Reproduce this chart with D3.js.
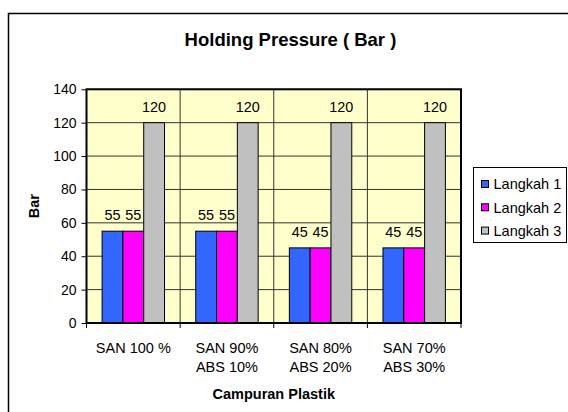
<!DOCTYPE html>
<html>
<head>
<meta charset="utf-8">
<script src="https://cdn.jsdelivr.net/npm/d3@7"></script>
<style>
  body { margin: 0; background: #fff; }
  text { font-family: Arial, "Liberation Sans", sans-serif; }
</style>
</head>
<body>
<div class="chart"></div>
<script>
// data
var categories = ["SAN 100 %", "SAN 90%\nABS 10%", "SAN 80%\nABS 20%", "SAN 70%\nABS 30%"];
var seriesNames = ["Langkah 1", "Langkah 2", "Langkah 3"];
var langkah1 = [55, 55, 45, 45];
var langkah2 = [55, 55, 45, 45];
var langkah3 = [120, 120, 120, 120];
var yTicks = [0, 20, 40, 60, 80, 100, 120, 140];
var colors = ["#3366FF", "#FF00FF", "#C0C0C0"];

var values = [langkah1, langkah2, langkah3];

var svg = d3.select(".chart").append("svg").attr("width", 568).attr("height", 412);

// outer chart frame (runs off the right/bottom of the picture)
svg.append("rect")
    .attr("x", 8.5).attr("y", 13.5)
    .attr("width", 620).attr("height", 430)
    .attr("fill", "#fff").attr("stroke", "#000").attr("stroke-width", 1.5);

var plotLeft = 86.5, plotRight = 461, plotTop = 89.3, plotBottom = 323;

var x = d3.scaleBand().domain(categories).range([plotLeft, plotRight]).padding(0);
var xs = d3.scaleBand().domain(seriesNames).range([0, x.bandwidth()])
            .paddingInner(0).paddingOuter(0.75);
var y = d3.scaleLinear().domain([0, 140]).range([plotBottom, plotTop]);

// plot background
svg.append("rect")
    .attr("x", plotLeft).attr("y", plotTop)
    .attr("width", plotRight - plotLeft).attr("height", plotBottom - plotTop)
    .attr("fill", "#FFFFCC");

// horizontal grid
svg.selectAll(".hgrid").data(yTicks).enter().append("line")
    .attr("x1", plotLeft).attr("x2", plotRight)
    .attr("y1", function(d){ return y(d); }).attr("y2", function(d){ return y(d); })
    .attr("stroke", "#333").attr("stroke-width", 1);

// vertical grid at category boundaries
svg.selectAll(".vgrid").data(categories.slice(1)).enter().append("line")
    .attr("x1", function(d){ return x(d); }).attr("x2", function(d){ return x(d); })
    .attr("y1", plotTop).attr("y2", plotBottom)
    .attr("stroke", "#333").attr("stroke-width", 1);

// bars
seriesNames.forEach(function(s, si) {
    svg.selectAll(".bar" + si).data(values[si]).enter().append("rect")
        .attr("x", function(d, i){ return x(categories[i]) + xs(s); })
        .attr("y", function(d){ return y(d); })
        .attr("width", xs.bandwidth())
        .attr("height", function(d){ return y(0) - y(d); })
        .attr("fill", colors[si])
        .attr("stroke", "#000").attr("stroke-width", 1);

    svg.selectAll(".lab" + si).data(values[si]).enter().append("text")
        .text(function(d){ return d; })
        .attr("x", function(d, i){ return x(categories[i]) + xs(s) + xs.bandwidth() / 2; })
        .attr("y", function(d){ return y(d) - 11; })
        .attr("text-anchor", "middle")
        .attr("font-size", "14.4px")
        .attr("fill", "#000");
});

// plot border
svg.append("rect")
    .attr("x", plotLeft).attr("y", plotTop)
    .attr("width", plotRight - plotLeft).attr("height", plotBottom - plotTop)
    .attr("fill", "none").attr("stroke", "#000").attr("stroke-width", 2);

// y axis
var yAxis = svg.append("g")
    .attr("transform", "translate(" + plotLeft + ",0)")
    .call(d3.axisLeft(y).tickValues(yTicks).tickSize(5).tickPadding(5));
yAxis.select(".domain").remove();
yAxis.selectAll(".tick line").attr("stroke", "#000");
yAxis.selectAll(".tick text")
    .attr("font-size", "14px").attr("fill", "#000")
    .attr("font-family", "Arial, 'Liberation Sans', sans-serif");

// x axis tick marks at category boundaries
var bounds = categories.map(function(c){ return x(c); }).concat([plotRight]);
svg.selectAll(".xtick").data(bounds).enter().append("line")
    .attr("x1", function(d){ return d; }).attr("x2", function(d){ return d; })
    .attr("y1", plotBottom).attr("y2", plotBottom + 5)
    .attr("stroke", "#000").attr("stroke-width", 1);

// category labels (two lines)
categories.forEach(function(c) {
    var t = svg.append("text")
        .attr("text-anchor", "middle")
        .attr("font-size", "14.5px")
        .attr("fill", "#000");
    c.split("\n").forEach(function(line, li) {
        t.append("tspan")
            .attr("x", x(c) + x.bandwidth() / 2)
            .attr("y", 352.5 + li * 19)
            .text(line);
    });
});

// titles
svg.append("text")
    .text("Holding Pressure ( Bar )")
    .attr("x", 290.5).attr("y", 45.7)
    .attr("text-anchor", "middle")
    .attr("font-size", "18.5px").attr("font-weight", "bold");

svg.append("text")
    .text("Campuran Plastik")
    .attr("x", (plotLeft + plotRight) / 2).attr("y", 399)
    .attr("text-anchor", "middle")
    .attr("font-size", "14.5px").attr("font-weight", "bold");

svg.append("text")
    .text("Bar")
    .attr("transform", "translate(38.5," + ((plotTop + plotBottom) / 2) + ") rotate(-90)")
    .attr("text-anchor", "middle")
    .attr("font-size", "14.5px").attr("font-weight", "bold");

// legend
var legend = svg.append("g");
legend.append("rect")
    .attr("x", 473.5).attr("y", 167.5)
    .attr("width", 93).attr("height", 75)
    .attr("fill", "#fff").attr("stroke", "#000").attr("stroke-width", 1);

seriesNames.forEach(function(s, si) {
    var cy = 184 + si * 23.3;
    legend.append("rect")
        .attr("x", 481.5).attr("y", cy - 3.5)
        .attr("width", 7).attr("height", 7)
        .attr("fill", colors[si]).attr("stroke", "#000").attr("stroke-width", 1);
    legend.append("text")
        .text(s)
        .attr("x", 493.5).attr("y", cy + 5.2)
        .attr("font-size", "14.5px").attr("fill", "#000");
});
</script>
</body>
</html>
